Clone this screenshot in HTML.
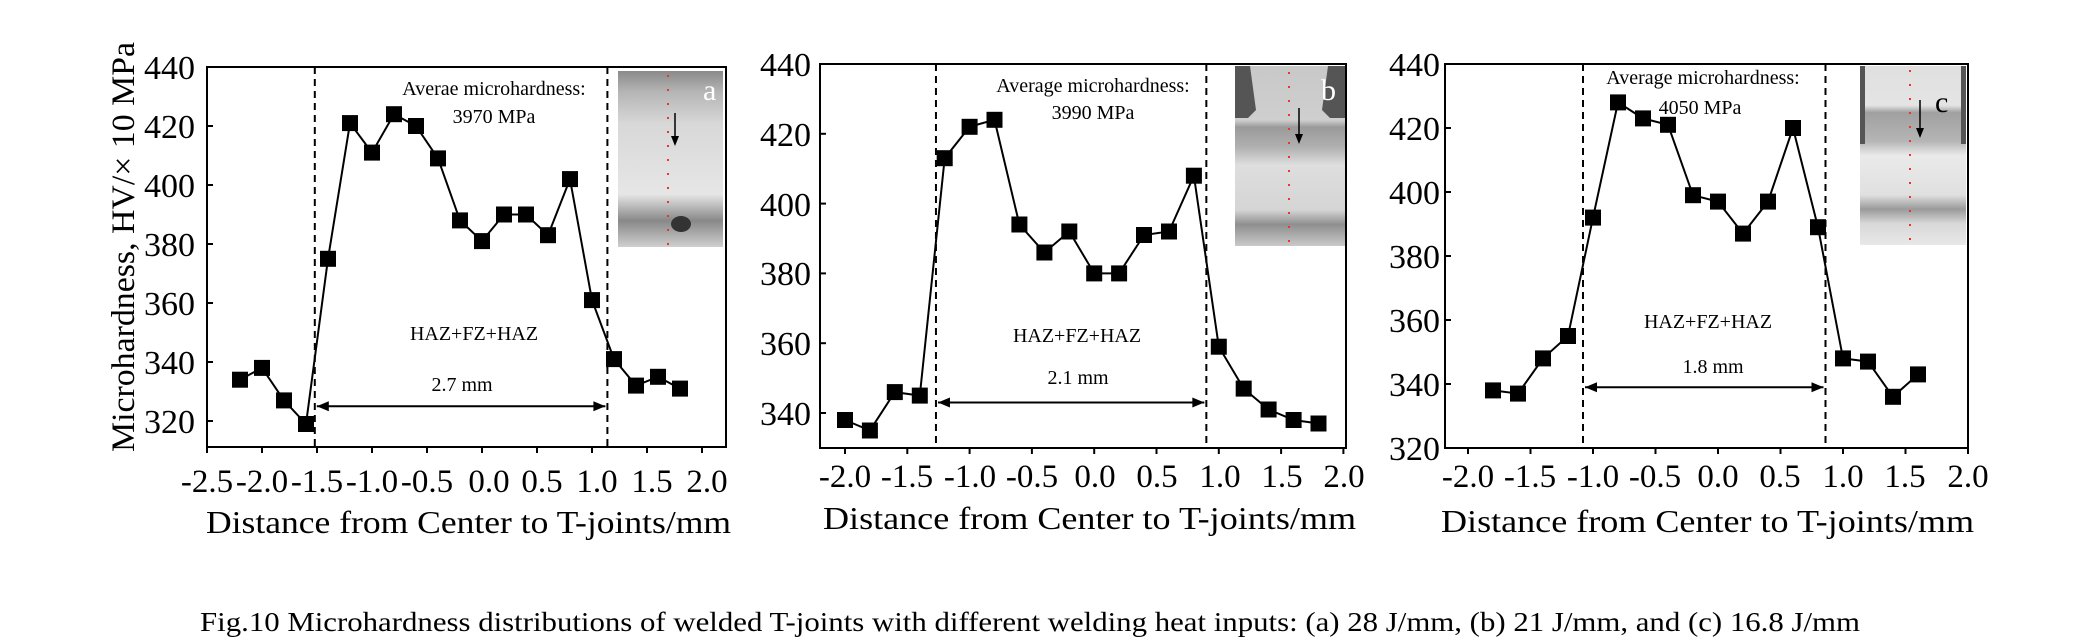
<!DOCTYPE html>
<html><head><meta charset="utf-8"><style>
html,body{margin:0;padding:0;background:#fff;}
svg{display:block;font-family:"Liberation Serif",serif;}
</style></head><body>
<svg id="s" width="2090" height="643" viewBox="0 0 2090 643" xmlns="http://www.w3.org/2000/svg">
<defs>
<linearGradient id="ga" x1="0" y1="0" x2="0" y2="1">
<stop offset="0" stop-color="#8a8a8a"/><stop offset="0.12" stop-color="#b5b5b5"/><stop offset="0.3" stop-color="#d8d8d8"/><stop offset="0.7" stop-color="#e6e6e6"/><stop offset="0.85" stop-color="#888"/><stop offset="1" stop-color="#cfcfcf"/></linearGradient>
<linearGradient id="gb" x1="0" y1="0" x2="0" y2="1">
<stop offset="0" stop-color="#c8c8c8"/><stop offset="0.3" stop-color="#cfcfcf"/><stop offset="0.34" stop-color="#9a9a9a"/><stop offset="0.45" stop-color="#b0b0b0"/><stop offset="0.55" stop-color="#dedede"/><stop offset="0.8" stop-color="#d5d5d5"/><stop offset="0.88" stop-color="#8f8f8f"/><stop offset="1" stop-color="#c9c9c9"/></linearGradient>
<linearGradient id="gc" x1="0" y1="0" x2="0" y2="1">
<stop offset="0" stop-color="#e0e0e0"/><stop offset="0.22" stop-color="#e4e4e4"/><stop offset="0.26" stop-color="#a0a0a0"/><stop offset="0.42" stop-color="#b5b5b5"/><stop offset="0.5" stop-color="#eaeaea"/><stop offset="0.72" stop-color="#e0e0e0"/><stop offset="0.8" stop-color="#9a9a9a"/><stop offset="0.88" stop-color="#d8d8d8"/><stop offset="1" stop-color="#e8e8e8"/></linearGradient>
</defs>
<g id="g" stroke="#000" fill="none" stroke-width="2">
<rect x="207" y="67" width="519" height="380"/>
<rect x="820" y="64" width="526" height="384"/>
<rect x="1445" y="64" width="523" height="384"/>
</g>
<rect x="618" y="71" width="105" height="176" fill="url(#ga)"/>
<ellipse cx="681" cy="224" rx="10" ry="8" fill="#333"/>
<rect x="1235" y="66" width="110" height="180" fill="url(#gb)"/>
<path d="M1235 66 L1250 66 L1256 110 L1248 118 L1235 118Z M1345 66 L1328 66 L1322 110 L1330 118 L1345 118Z" fill="#555"/>
<rect x="1860" y="66" width="106" height="179" fill="url(#gc)"/>
<rect x="1860" y="66" width="5" height="78" fill="#555"/><rect x="1961" y="66" width="5" height="78" fill="#555"/>
<g font-size="30" fill="#fff"><text x="703" y="100">a</text><text x="1321" y="100">b</text></g>
<text x="1935" y="112" font-size="30" fill="#000">c</text>
<line x1="668" y1="75" x2="668" y2="245" stroke="#e33" stroke-width="2" stroke-dasharray="2 12"/>
<line x1="1289" y1="72" x2="1289" y2="245" stroke="#e33" stroke-width="2" stroke-dasharray="2 12"/>
<line x1="1910" y1="70" x2="1910" y2="245" stroke="#e33" stroke-width="2" stroke-dasharray="2 12"/>
<g stroke="#000" stroke-width="1.5"><line x1="675" y1="113" x2="675" y2="140"/><line x1="1299" y1="108" x2="1299" y2="138"/><line x1="1920" y1="100" x2="1920" y2="132"/></g>
<g fill="#000"><path d="M671 136 L679 136 L675 146Z"/><path d="M1295 134 L1303 134 L1299 144Z"/><path d="M1916 128 L1924 128 L1920 138Z"/></g>
<g id="d"></g>
<g font-size="34" fill="#000" text-anchor="end">
<text x="195" y="79">440</text><text x="195" y="138">420</text><text x="195" y="197">400</text><text x="195" y="256">380</text><text x="195" y="315">360</text><text x="195" y="374">340</text><text x="195" y="433">320</text>
<text x="811" y="76">440</text><text x="811" y="146">420</text><text x="811" y="216">400</text><text x="811" y="285">380</text><text x="811" y="355">360</text><text x="811" y="425">340</text>
<text x="1440" y="76">440</text><text x="1440" y="140">420</text><text x="1440" y="204">400</text><text x="1440" y="268">380</text><text x="1440" y="332">360</text><text x="1440" y="396">340</text><text x="1440" y="460">320</text>
</g>
<g font-size="33" fill="#000" text-anchor="middle">
<text x="207" y="492">-2.5</text><text x="262" y="492">-2.0</text><text x="317" y="492">-1.5</text><text x="372" y="492">-1.0</text><text x="427" y="492">-0.5</text><text x="489" y="492">0.0</text><text x="542" y="492">0.5</text><text x="597" y="492">1.0</text><text x="652" y="492">1.5</text><text x="707" y="492">2.0</text>
<text x="845" y="487">-2.0</text><text x="907" y="487">-1.5</text><text x="970" y="487">-1.0</text><text x="1032" y="487">-0.5</text><text x="1095" y="487">0.0</text><text x="1157" y="487">0.5</text><text x="1220" y="487">1.0</text><text x="1282" y="487">1.5</text><text x="1344" y="487">2.0</text>
<text x="1468" y="487">-2.0</text><text x="1530" y="487">-1.5</text><text x="1593" y="487">-1.0</text><text x="1655" y="487">-0.5</text><text x="1718" y="487">0.0</text><text x="1780" y="487">0.5</text><text x="1843" y="487">1.0</text><text x="1905" y="487">1.5</text><text x="1968" y="487">2.0</text>
</g>
<g font-size="32" fill="#000">
<text x="206" y="533" textLength="525" lengthAdjust="spacingAndGlyphs">Distance from Center to T-joints/mm</text>
<text x="823" y="529" textLength="533" lengthAdjust="spacingAndGlyphs">Distance from Center to T-joints/mm</text>
<text x="1441" y="532" textLength="533" lengthAdjust="spacingAndGlyphs">Distance from Center to T-joints/mm</text>
<text transform="translate(134,452) rotate(-90)" font-size="33" textLength="410" lengthAdjust="spacingAndGlyphs">Microhardness, HV/× 10 MPa</text>
</g>
<g font-size="20" fill="#000" text-anchor="middle">
<text x="494" y="95">Averae microhardness:</text><text x="494" y="123">3970 MPa</text>
<text x="474" y="340">HAZ+FZ+HAZ</text><text x="462" y="391">2.7 mm</text>
<text x="1093" y="92">Average microhardness:</text><text x="1093" y="119">3990 MPa</text>
<text x="1077" y="342">HAZ+FZ+HAZ</text><text x="1078" y="384">2.1 mm</text>
<text x="1703" y="84">Average microhardness:</text><text x="1700" y="114">4050 MPa</text>
<text x="1708" y="328">HAZ+FZ+HAZ</text><text x="1713" y="373">1.8 mm</text>
</g>
<text x="200" y="631" font-size="27" textLength="1660" lengthAdjust="spacingAndGlyphs">Fig.10    Microhardness distributions of welded T-joints with different welding heat inputs: (a) 28 J/mm, (b) 21 J/mm, and (c) 16.8 J/mm</text>
</svg>
<script>
(function(){
var NS="http://www.w3.org/2000/svg",d=document.getElementById("d");
function el(n,a){var e=document.createElementNS(NS,n);for(var k in a)e.setAttribute(k,a[k]);d.appendChild(e);return e;}
var P=[
 {x0:-2.2,v:[334,338,327,319,375,421,411,424,420,409,388,381,390,390,383,402,361,341,332,335,331],
  X:function(v){return 207+(v+2.5)*110},Y:function(v){return 67+(440-v)*2.95},
  dl:[-1.52,1.14],ar:325,top:67,bot:447,ticks:[-2.5,2.0],yt:[320,440],L:207,R:726},
 {x0:-2.0,v:[338,335,346,345,413,422,424,394,386,392,380,380,391,392,408,359,347,341,338,337],
  X:function(v){return 845+(v+2)*124.6},Y:function(v){return 64+(440-v)*3.49},
  dl:[-1.27,0.9],ar:343,top:64,bot:448,ticks:[-2,2],yt:[340,440],L:820,R:1346},
 {x0:-1.8,v:[338,337,348,355,392,428,423,421,399,397,387,397,420,389,348,347,336,343],
  X:function(v){return 1468+(v+2)*125},Y:function(v){return 64+(440-v)*3.2},
  dl:[-1.08,0.86],ar:339,top:64,bot:448,ticks:[-2,2],yt:[320,440],L:1445,R:1968}
];
P.forEach(function(p){
 var pts=[];p.v.forEach(function(v,i){var x=p.X(p.x0+0.2*i);pts.push(x.toFixed(1)+","+p.Y(v).toFixed(1));});
 el("polyline",{points:pts.join(" "),fill:"none",stroke:"#000","stroke-width":2});
 pts.forEach(function(s){var a=s.split(",");el("rect",{x:+a[0]-8,y:+a[1]-8,width:16,height:16,fill:"#000"});});
 p.dl.forEach(function(v){var x=p.X(v);el("line",{x1:x,y1:p.top,x2:x,y2:p.bot,stroke:"#000","stroke-width":2,"stroke-dasharray":"7 5"});});
 var x1=p.X(p.dl[0])+2,x2=p.X(p.dl[1])-2,y=p.Y(p.ar);
 el("line",{x1:x1,y1:y,x2:x2,y2:y,stroke:"#000","stroke-width":2});
 el("path",{d:"M"+x1+" "+y+" l12 -5 l0 10z",fill:"#000"});
 el("path",{d:"M"+x2+" "+y+" l-12 -5 l0 10z",fill:"#000"});
 for(var t=p.ticks[0];t<=p.ticks[1]+1e-6;t+=0.5){var x=p.X(t);el("line",{x1:x,y1:p.bot,x2:x,y2:p.bot+6,stroke:"#000","stroke-width":2});}
 for(var v=p.yt[0];v<=p.yt[1];v+=20){var yy=p.Y(v);el("line",{x1:p.L,y1:yy,x2:p.L+6,y2:yy,stroke:"#000","stroke-width":2});}
});
})();
</script>
</body></html>
